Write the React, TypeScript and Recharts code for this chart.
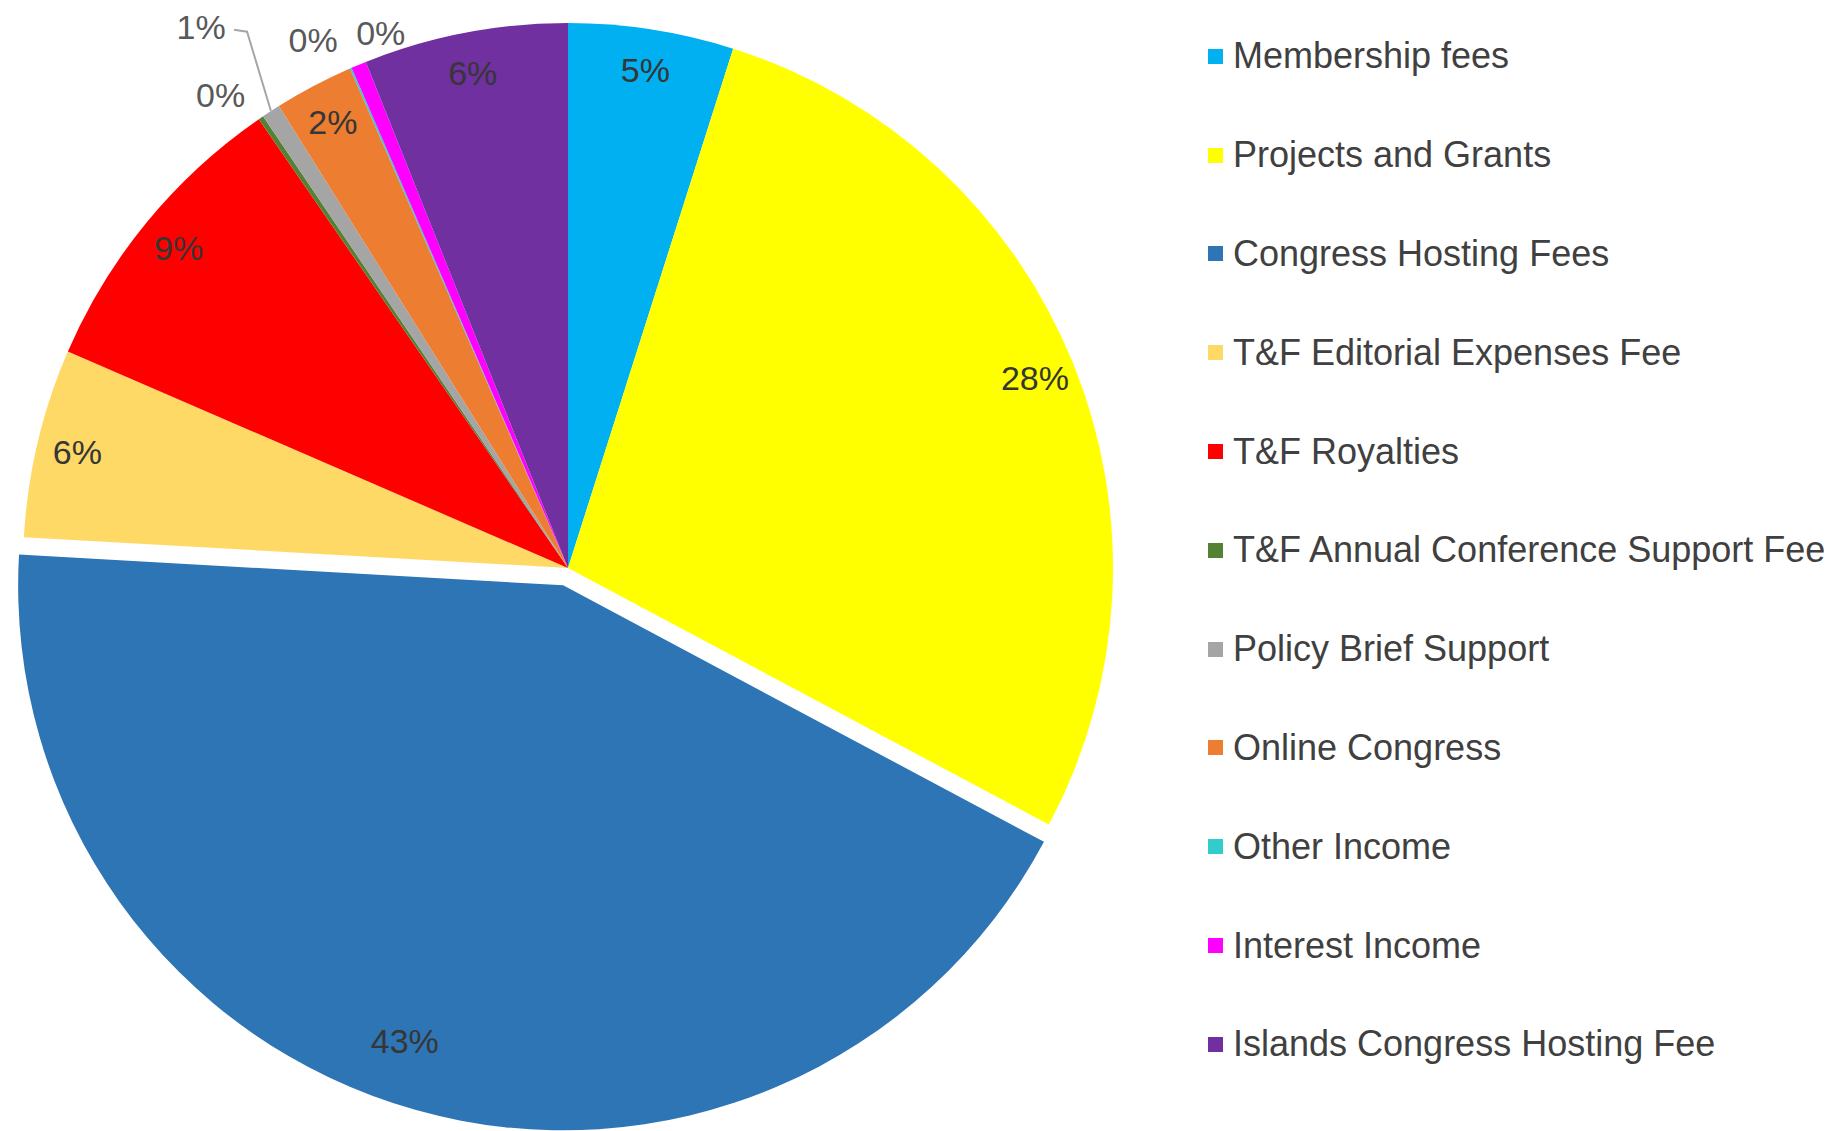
import { PieChart, Pie, Cell, Legend } from 'recharts';

// income share per category (percent of total)
const categories = [
  'Membership fees',
  'Projects and Grants',
  'Congress Hosting Fees',
  'T&F Editorial Expenses Fee',
  'T&F Royalties',
  'T&F Annual Conference Support Fee',
  'Policy Brief Support',
  'Online Congress',
  'Other Income',
  'Interest Income',
  'Islands Congress Hosting Fee',
];
const shares = [4.9, 27.9, 43.1, 5.6, 8.9, 0.15, 0.55, 2.35, 0.05, 0.45, 6.05];
const colors = [
  '#00B0F0', '#FFFF00', '#2E75B6', '#FFD966', '#FF0000', '#548235',
  '#A5A5A5', '#ED7D31', '#33CCCC', '#FF00FF', '#7030A0',
];
const explodedCategory = 'Congress Hosting Fees';

const chartData = categories.map((name, i) => ({ name, value: shares[i] }));

const W = 1829;
const H = 1131;
const CX = 568;
const CY = 568;
const R = 545;
const EXPLODE = 18;
const FONT = '"Liberation Sans", Arial, sans-serif';
const RAD = Math.PI / 180;

// label placement tweaks (radius factor, clockwise shift in degrees); small slices sit outside
const labelPlacement: Record<string, { r: number; shift: number; outside?: boolean; leader?: boolean }> = {
  'Congress Hosting Fees': { r: 0.885, shift: 3.5 },
  'T&F Annual Conference Support Fee': { r: 1.077, shift: -2, outside: true },
  'Policy Brief Support': { r: 1.2, shift: -1.1, outside: true, leader: true },
  'Other Income': { r: 1.075, shift: -2.3, outside: true },
  'Interest Income': { r: 1.04, shift: 3.3, outside: true },
};

// offset of the exploded slice, from its mid angle
const total = shares.reduce((a, b) => a + b, 0);
const explodedIdx = categories.indexOf(explodedCategory);
const before = shares.slice(0, explodedIdx).reduce((a, b) => a + b, 0);
const explodedMid = ((before + shares[explodedIdx] / 2) / total) * 360;
const dx = EXPLODE * Math.sin(explodedMid * RAD);
const dy = -EXPLODE * Math.cos(explodedMid * RAD);

const makeLabel = (exploded: boolean) => (props: any) => {
  const { cx, cy, midAngle, outerRadius, percent, name } = props;
  if ((name === explodedCategory) !== exploded) return null;
  const text = `${Math.round(percent * 100)}%`;
  const place = labelPlacement[name] ?? { r: 0.925, shift: 0 };
  const a = (midAngle - place.shift) * RAD;
  const x = cx + outerRadius * place.r * Math.cos(a);
  const y = cy - outerRadius * place.r * Math.sin(a);
  const ex = cx + outerRadius * Math.cos(midAngle * RAD);
  const ey = cy - outerRadius * Math.sin(midAngle * RAD);
  return (
    <g key={`lbl-${name}`}>
      {place.leader && (
        <polyline
          points={`${x + 33},${y + 3} ${x + 46},${y + 5} ${ex},${ey}`}
          fill="none"
          stroke="#A6A6A6"
          strokeWidth={2}
        />
      )}
      <text
        x={x}
        y={y}
        textAnchor="middle"
        dominantBaseline="central"
        fill={place.outside ? '#595959' : '#363636'}
        fontSize={34}
        fontFamily={FONT}
      >
        {text}
      </text>
    </g>
  );
};

function LegendList() {
  return (
    <div style={{ fontFamily: FONT }}>
      {categories.map((name, i) => (
        <div key={name} style={{ height: 98.8, display: 'flex', alignItems: 'center' }}>
          <span style={{ width: 15, height: 15, background: colors[i], marginRight: 10, flexShrink: 0 }} />
          <span style={{ fontSize: 36, color: '#404040', whiteSpace: 'nowrap' }}>{name}</span>
        </div>
      ))}
    </div>
  );
}

export default function App() {
  return (
    <div style={{ position: 'absolute', left: 0, top: 0, width: W, height: H, background: '#fff' }}>
      <PieChart width={W} height={H} margin={{ top: 0, right: 0, bottom: 0, left: 0 }}>
        <Pie
          data={chartData}
          dataKey="value"
          nameKey="name"
          cx={CX}
          cy={CY}
          outerRadius={R}
          startAngle={90}
          endAngle={-270}
          stroke="none"
          labelLine={false}
          label={makeLabel(false)}
          isAnimationActive={false}
        >
          {chartData.map((d, i) => (
            <Cell key={d.name} fill={d.name === explodedCategory ? 'none' : colors[i]} />
          ))}
        </Pie>
        <Pie
          data={chartData}
          dataKey="value"
          nameKey="name"
          cx={CX + dx}
          cy={CY + dy}
          outerRadius={R}
          startAngle={90}
          endAngle={-270}
          stroke="none"
          legendType="none"
          labelLine={false}
          label={makeLabel(true)}
          isAnimationActive={false}
        >
          {chartData.map((d, i) => (
            <Cell key={d.name} fill={d.name === explodedCategory ? colors[i] : 'none'} />
          ))}
        </Pie>
        <Legend
          layout="vertical"
          verticalAlign="top"
          align="right"
          wrapperStyle={{ left: 1208, top: 7, width: 621 }}
          content={() => <LegendList />}
        />
      </PieChart>
    </div>
  );
}
